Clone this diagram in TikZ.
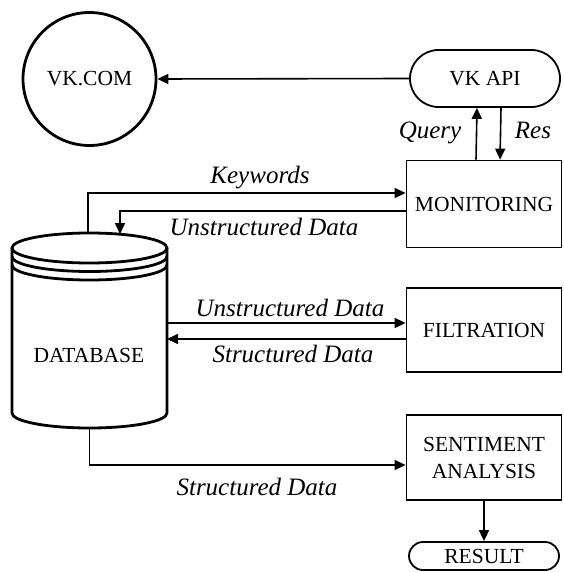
\documentclass[tikz,border=0pt]{standalone}
\usepackage{fontspec}
\setmainfont{Liberation Serif}
\usetikzlibrary{arrows.meta,shapes.misc}

\tikzset{
  boxtext/.style={font=\fontsize{21.5}{24}\selectfont},
  block/.style={boxtext, draw, line width=1.8pt, minimum width=155pt, inner sep=2pt},
  term/.style={boxtext, draw, rounded rectangle, line width=1.8pt, minimum width=154pt, inner sep=2pt},
  lbl/.style={font=\fontsize{25}{28}\selectfont\itshape, anchor=base, inner sep=0pt},
  arr/.style={line width=1.6pt, -{Triangle[length=11pt,width=10pt]}},
  cyl/.style={line width=2.8pt}
}

\begin{document}
\begin{tikzpicture}[x=1pt,y=-1pt]
 \useasboundingbox (0,0) rectangle (563,572);

 % site and api
 \node[boxtext, draw, circle, line width=2.8pt, minimum size=133pt] (vkcom) at (89.5,79) {VK.COM};
 \node[term, minimum height=57pt] (vkapi) at (485,78.5) {VK API};

 % processing blocks
 \node[block, minimum height=87pt] (monitoring) at (484,204) {MONITORING};
 \node[block, minimum height=84pt] (filtration) at (484,330) {FILTRATION};
 \node[block, minimum height=85pt, align=center] (sentiment) at (484,457.5) {SENTIMENT\\[3pt]ANALYSIS};
 \node[term, minimum height=28pt] (result) at (484,556) {RESULT};

 % database cylinder
 \draw[cyl] (12,248) -- (12,413) arc[start angle=180, end angle=0, x radius=77.5, y radius=15] -- (167,248);
 \draw[cyl] (89.5,248) ellipse [x radius=77.5, y radius=15];
 \draw[cyl] (12,256.5) arc[start angle=180, end angle=0, x radius=77.5, y radius=15];
 \draw[cyl] (12,265) arc[start angle=180, end angle=0, x radius=77.5, y radius=15];
 \node[boxtext] (database) at (89,355) {DATABASE};
 \coordinate (dbtop) at (88,233);
 \coordinate (dbin) at (120,234);
 \coordinate (dbE) at (167,330);
 \coordinate (dbS) at (89.5,428);

 % connectors
 \draw[arr] (vkapi.west) -- (vkcom.east);
 \draw[arr] ([xshift=-8pt]monitoring.north) -- ([xshift=-8pt]vkapi.south);
 \draw[arr] ([xshift=16pt]vkapi.south) -- ([xshift=16pt]monitoring.north);
 \draw[arr] (dbtop) |- ([yshift=11pt]monitoring.west);
 \draw[arr] ([yshift=-7pt]monitoring.west) -| (dbin);
 \coordinate (u1) at ([yshift=7pt]filtration.west);
 \coordinate (s1) at ([yshift=-9pt]filtration.west);
 \draw[arr] (u1 -| dbE) -- (u1);
 \draw[arr] (s1) -- (s1 -| dbE);
 \draw[arr] (dbS) |- ([yshift=-7.5pt]sentiment.west);
 \draw[arr] (sentiment.south) -- (result.north);

 % labels
 \node[lbl] (query) at (430,139) {Query};
 \node[lbl] (res) at (533,139) {Res};
 \node[lbl] (keywords) at (260,183) {Keywords};
 \node[lbl] (unstr1) at (264,235) {Unstructured Data};
 \node[lbl] (unstr2) at (290,316) {Unstructured Data};
 \node[lbl] (str1) at (293,362) {Structured Data};
 \node[lbl] (str2) at (257,495) {Structured Data};
\end{tikzpicture}
\end{document}
